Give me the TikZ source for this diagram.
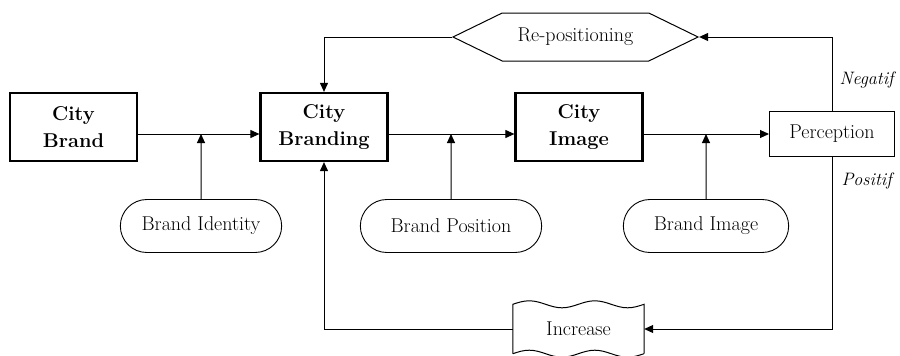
\documentclass[tikz,border=0pt]{standalone}
\usetikzlibrary{arrows.meta,shapes.misc,shapes.symbols}

\begin{document}
\begin{tikzpicture}[x=1pt,y=-1pt,
    font=\fontsize{20}{27}\selectfont,
    >={Triangle[length=9pt,width=8pt]},
    cityblock/.style={draw,line width=2.2pt,minimum width=127pt,minimum height=68pt,
      align=center,font=\fontsize{20}{27}\selectfont\bfseries},
    brandpill/.style={draw,rounded rectangle,line width=0.9pt,minimum height=53pt},
    signlabel/.style={font=\fontsize{18}{22}\selectfont\itshape,inner sep=2pt},
    flowline/.style={line width=1pt},
    wavy/.style={line width=1pt}]
    \useasboundingbox (0,0) rectangle (900,356);

    \node[cityblock] (cbrand) at (73.5,127) {City\\Brand};
    \node[cityblock] (cbranding) at (324,127) {City\\Branding};
    \node[cityblock] (cimage) at (579,127) {City\\Image};
    \node[draw,line width=1pt,minimum width=125pt,minimum height=45pt] (perc) at (832,134) {Perception};

    \node[brandpill,minimum width=168pt] (bidentity) at (201,226) {Brand Identity};
    \node[brandpill,minimum width=188pt] (bposition) at (451,226) {Brand Position};
    \node[brandpill,minimum width=172pt] (bimage) at (706,226) {Brand Image};

    \node[draw,line width=1pt,signal,signal to=west and east,signal pointer angle=52,
      minimum width=245pt,minimum height=48pt] (repos) at (575.5,37) {Re-positioning};

    % increase: wavy top and bottom
    \node[minimum width=131pt,minimum height=49pt,inner sep=0pt] (incr) at (578.5,329) {Increase};
    \draw[wavy] (incr.south west) -- (incr.north west)
      \foreach \k in {1,2} {sin ++(16.4,-3.5) cos ++(16.4,3.5) sin ++(16.4,3.5) cos ++(16.4,-3.5)}
      -- (incr.south east);
    \draw[wavy] (incr.south west)
      \foreach \k in {1,2} {sin ++(16.4,-3.5) cos ++(16.4,3.5) sin ++(16.4,3.5) cos ++(16.4,-3.5)};

    % main chain
    \draw[flowline,->] (cbrand.east |- perc) -- (cbranding.west |- perc);
    \draw[flowline,->] (cbranding.east |- perc) -- (cimage.west |- perc);
    \draw[flowline,->] (cimage.east |- perc) -- (perc.west);

    % inputs from below
    \draw[flowline,->] (bidentity) -- (bidentity |- perc);
    \draw[flowline,->] (bposition) -- (bposition |- perc);
    \draw[flowline,->] (bimage) -- (bimage |- perc);

    % feedback loops
    \draw[flowline,->] (perc.north) |- (repos.east)
      node[signlabel,pos=0.21,right=5pt] (neg) {Negatif};
    \draw[flowline,->] (repos.west) -| (cbranding.north);
    \draw[flowline,->] (perc.south) |- (incr.east)
      node[signlabel,pos=0.07,right=7pt] (pos) {Positif};
    \draw[flowline,->] (incr.west) -| (cbranding.south);
\end{tikzpicture}
\end{document}
